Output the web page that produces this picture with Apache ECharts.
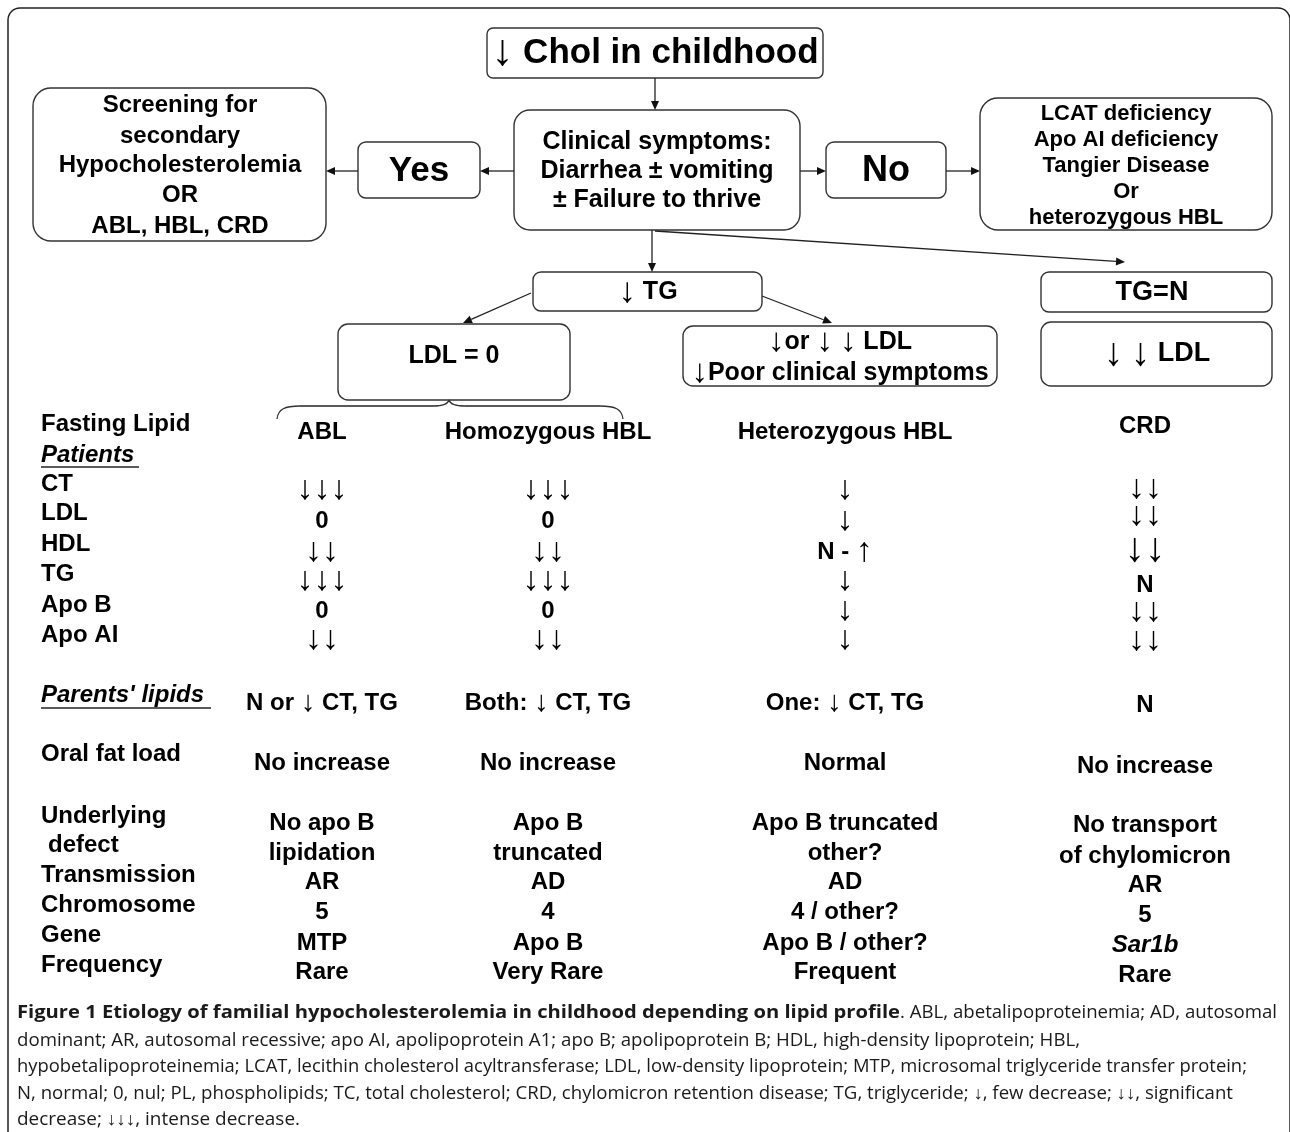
<!DOCTYPE html>
<html>
<head>
<meta charset="utf-8">
<script src="https://cdn.jsdelivr.net/npm/echarts@6/dist/echarts.min.js"></script>
<style>
  html, body { margin: 0; padding: 0; background: #fff; }
  #chart { width: 1290px; height: 1132px; }
</style>
</head>
<body>
<div id="chart"></div>
<script>
// flowchart texts
const titleText = '↓ Chol in childhood';
const symptomLines = ['Clinical symptoms:', 'Diarrhea ± vomiting', '± Failure to thrive'];
const yesText = 'Yes';
const noText = 'No';
const screeningLines = ['Screening for', 'secondary', 'Hypocholesterolemia', 'OR', 'ABL, HBL, CRD'];
const otherLines = ['LCAT deficiency', 'Apo AI deficiency', 'Tangier Disease', 'Or', 'heterozygous HBL'];
const tgLowText = '↓ TG';
const tgNormText = 'TG=N';
const ldlZeroText = 'LDL = 0';
const ldlLowLines = ['↓or ↓ ↓ LDL', '↓Poor clinical symptoms'];
const crdLdlText = '↓ ↓ LDL';

// table texts
const diseases = ['ABL', 'Homozygous HBL', 'Heterozygous HBL', 'CRD'];
const lipidRows = ['CT', 'LDL', 'HDL', 'TG', 'Apo B', 'Apo AI'];
const ablLipids = ['↓↓↓', '0', '↓↓', '↓↓↓', '0', '↓↓'];
const homoLipids = ['↓↓↓', '0', '↓↓', '↓↓↓', '0', '↓↓'];
const heteroLipids = ['↓', '↓', 'N - ↑', '↓', '↓', '↓'];
const crdLipids = ['↓↓', '↓↓', '↓↓', 'N', '↓↓', '↓↓'];
const parentsLipids = ['N or ↓ CT, TG', 'Both: ↓ CT, TG', 'One: ↓ CT, TG', 'N'];
const oralFatLoad = ['No increase', 'No increase', 'Normal', 'No increase'];
const defectTop = ['No apo B', 'Apo B', 'Apo B truncated', 'No transport'];
const defectBottom = ['lipidation', 'truncated', 'other?', 'of chylomicron'];
const transmission = ['AR', 'AD', 'AD', 'AR'];
const chromosome = ['5', '4', '4 / other?', '5'];
const gene = ['MTP', 'Apo B', 'Apo B / other?', 'Sar1b'];
const frequency = ['Rare', 'Very Rare', 'Frequent', 'Rare'];

const captionBold = 'Figure 1 Etiology of familial hypocholesterolemia in childhood depending on lipid profile';
const captionLines = [
  '. ABL, abetalipoproteinemia; AD, autosomal',
  'dominant; AR, autosomal recessive; apo AI, apolipoprotein A1; apo B; apolipoprotein B; HDL, high-density lipoprotein; HBL,',
  'hypobetalipoproteinemia; LCAT, lecithin cholesterol acyltransferase; LDL, low-density lipoprotein; MTP, microsomal triglyceride transfer protein;',
  'N, normal; 0, nul; PL, phospholipids; TC, total cholesterol; CRD, chylomicron retention disease; TG, triglyceride; ↓, few decrease; ↓↓, significant',
  'decrease; ↓↓↓, intense decrease.'
];

const FONT = '"Liberation Sans", Arial, sans-serif';
const CAP_FONT = '"Open Sans", "Noto Sans", sans-serif';

// arrows in the figure are drawn larger than the letters around them
function txt(text, x, y, size, o) {
  o = o || {};
  const weight = o.weight || 'bold';
  const family = o.family || FONT;
  const font = (o.italic ? 'italic ' : '') + weight + ' ' + size + 'px ' + family;
  const style = {
    x: 0, y: 0, fill: o.color || '#000', font: font,
    align: o.align || 'center', verticalAlign: 'middle',
    textAlign: o.align || 'center', textVerticalAlign: 'middle'
  };
  if (!o.plain && /[↓↑]/.test(text)) {
    style.text = text.replace(/([↓↑]+)/g, '{a|$1}').replace(/(^|\})([^{]+)(?=\{|$)/g, '$1{t|$2}');
    style.rich = {
      a: { font: weight + ' ' + Math.round(size * (o.ar || 1.4)) + 'px ' + family, fill: '#000', verticalAlign: 'middle' },
      t: { font: font, fill: '#000', verticalAlign: 'middle' }
    };
  } else {
    style.text = text;
  }
  return { type: 'text', x: x, y: y, scaleX: o.sx || 1, z: 10, style: style };
}
function box(x, y, w, h, r) {
  return {
    type: 'rect', z: 5,
    shape: { x: x, y: y, width: w, height: h, r: r },
    style: { fill: '#fff', stroke: '#333', lineWidth: 1.4 }
  };
}
function line(x1, y1, x2, y2) {
  return { type: 'line', z: 6, shape: { x1: x1, y1: y1, x2: x2, y2: y2 }, style: { stroke: '#222', lineWidth: 1.3 } };
}
function curve(x1, y1, c1x, c1y, c2x, c2y, x2, y2) {
  return {
    type: 'bezierCurve', z: 6,
    shape: { x1: x1, y1: y1, cpx1: c1x, cpy1: c1y, cpx2: c2x, cpy2: c2y, x2: x2, y2: y2 },
    style: { fill: null, stroke: '#333', lineWidth: 1.3 }
  };
}
function arrow(x1, y1, x2, y2) {
  const a = Math.atan2(y2 - y1, x2 - x1);
  const L = 9, W = 4;
  const bx = x2 - L * Math.cos(a), by = y2 - L * Math.sin(a);
  const px = -Math.sin(a) * W, py = Math.cos(a) * W;
  return [
    line(x1, y1, bx, by),
    { type: 'polygon', z: 6, shape: { points: [[x2, y2], [bx + px, by + py], [bx - px, by - py]] }, style: { fill: '#111' } }
  ];
}
function stack(lines, cx, ys, size, o) {
  return lines.map((t, i) => txt(t, cx, ys[i], size, o));
}

const els = [];

// outer frame
els.push({ type: 'rect', z: 1, shape: { x: 8, y: 8, width: 1282, height: 1200, r: 12 }, style: { fill: '#fff', stroke: '#222', lineWidth: 1.5 } });

// flowchart
els.push(box(487, 28, 336, 50, 6), txt(titleText, 655, 53, 35, { ar: 1.25 }));
els.push(...arrow(655, 78, 655, 110));
els.push(box(514, 110, 286, 120, 16), ...stack(symptomLines, 657, [142, 171, 200], 25));
els.push(box(358, 142, 122, 56, 8), txt(yesText, 419, 171, 35));
els.push(...arrow(514, 171, 480, 171), ...arrow(358, 171, 326, 171));
els.push(box(33, 88, 293, 153, 18), ...stack(screeningLines, 180, [105, 136, 165, 195, 226], 24));
els.push(box(826, 142, 120, 56, 8), txt(noText, 886, 171, 36));
els.push(...arrow(800, 171, 826, 171), ...arrow(946, 171, 980, 171));
els.push(box(980, 98, 292, 132, 18), ...stack(otherLines, 1126, [114, 140, 166, 192, 218], 22));
els.push(...arrow(652, 230, 652, 272));
els.push(...arrow(655, 231, 1125, 262));
els.push(box(533, 272, 229, 39, 8), txt(tgLowText, 648, 292, 25));
els.push(...arrow(531, 293, 463, 323), ...arrow(762, 296, 832, 323));
els.push(box(338, 324, 232, 76, 10), txt(ldlZeroText, 454, 356, 25));
els.push(box(683, 326, 314, 60, 10), ...stack(ldlLowLines, 840, [342, 373], 25, { ar: 1.3 }));
els.push(box(1041, 272, 231, 40, 8), txt(tgNormText, 1152, 293, 27));
els.push(box(1041, 322, 231, 64, 10), txt(crdLdlText, 1157, 354, 27, { ar: 1.45 }));

// brace under LDL = 0
els.push(
  curve(277, 419, 278, 409, 285, 406, 300, 406),
  line(300, 406, 433, 406),
  curve(433, 406, 444, 406, 448, 404, 449, 400),
  curve(449, 400, 450, 404, 454, 406, 465, 406),
  line(465, 406, 600, 406),
  curve(600, 406, 615, 406, 622, 409, 623, 419)
);

// table
const LX = 41;
const colX = [322, 548, 845, 1145];
const SZ = 24;
els.push(txt('Fasting Lipid', LX, 424, SZ, { align: 'left' }));
els.push(txt('Patients', LX, 455, SZ, { align: 'left', italic: true }));
els.push(line(LX, 467, 139, 467));
diseases.forEach((d, i) => els.push(txt(d, colX[i], i === 3 ? 426 : 432, SZ)));

const lipidLabelY = [484, 513, 544, 574, 605, 635];
const lipidValY = [490, 521, 552, 581, 611, 640];
const crdValY = [489, 516, 550, 585, 612, 641];
lipidRows.forEach((r, i) => els.push(txt(r, LX, lipidLabelY[i], SZ, { align: 'left' })));
[ablLipids, homoLipids, heteroLipids, crdLipids].forEach((col, c) => {
  col.forEach((v, i) => {
    const big = c === 3 && i === 2;
    els.push(txt(v, colX[c], c === 3 ? crdValY[i] : lipidValY[i], big ? 29 : SZ));
  });
});

els.push(txt("Parents' lipids", LX, 695, SZ, { align: 'left', italic: true }));
els.push(line(LX, 708, 211, 708));
els.push(txt('Oral fat load', LX, 754, SZ, { align: 'left' }));
els.push(txt('Underlying', LX, 816, SZ, { align: 'left' }));
els.push(txt('defect', LX + 7, 845, SZ, { align: 'left' }));
els.push(txt('Transmission', LX, 875, SZ, { align: 'left' }));
els.push(txt('Chromosome', LX, 905, SZ, { align: 'left' }));
els.push(txt('Gene', LX, 935, SZ, { align: 'left' }));
els.push(txt('Frequency', LX, 965, SZ, { align: 'left' }));

function row(vals, y, crdY, italicLast) {
  vals.forEach((v, c) => els.push(txt(v, colX[c], c === 3 ? crdY : y, SZ, { italic: italicLast && c === 3, ar: 1.2 })));
}
row(parentsLipids, 703, 705);
row(oralFatLoad, 763, 766);
row(defectTop, 823, 825);
row(defectBottom, 853, 856);
row(transmission, 882, 885);
row(chromosome, 912, 915);
row(gene, 943, 945, true);
row(frequency, 972, 975);

// caption: each line squeezed to the width it has in the figure
const CAP_SZ = 18;
const CAP_X = 17;
const capY = [1013, 1041, 1067, 1094, 1120];
const capBoldEnd = 900;
const capEnds = [1277, 1080, 1247, 1233, 300];
const mctx = document.createElement('canvas').getContext('2d');
function measure(t, weight) {
  mctx.font = weight + ' ' + CAP_SZ + 'px ' + CAP_FONT;
  return mctx.measureText(t).width;
}
const capOpt = (sx, weight) => ({ align: 'left', family: CAP_FONT, weight: weight, sx: sx, plain: true, color: '#1a1a1a' });
els.push(txt(captionBold, CAP_X, capY[0], CAP_SZ, capOpt((capBoldEnd - CAP_X) / measure(captionBold, 'bold'), 'bold')));
els.push(txt(captionLines[0], capBoldEnd, capY[0], CAP_SZ,
  capOpt((capEnds[0] - capBoldEnd) / measure(captionLines[0], 'normal'), 'normal')));
captionLines.slice(1).forEach((t, i) => {
  els.push(txt(t, CAP_X, capY[i + 1], CAP_SZ, capOpt((capEnds[i + 1] - CAP_X) / measure(t, 'normal'), 'normal')));
});

const chart = echarts.init(document.getElementById('chart'), null, { renderer: 'canvas' });
chart.setOption({
  backgroundColor: '#fff',
  animation: false,
  graphic: { elements: els }
});
</script>
</body>
</html>
